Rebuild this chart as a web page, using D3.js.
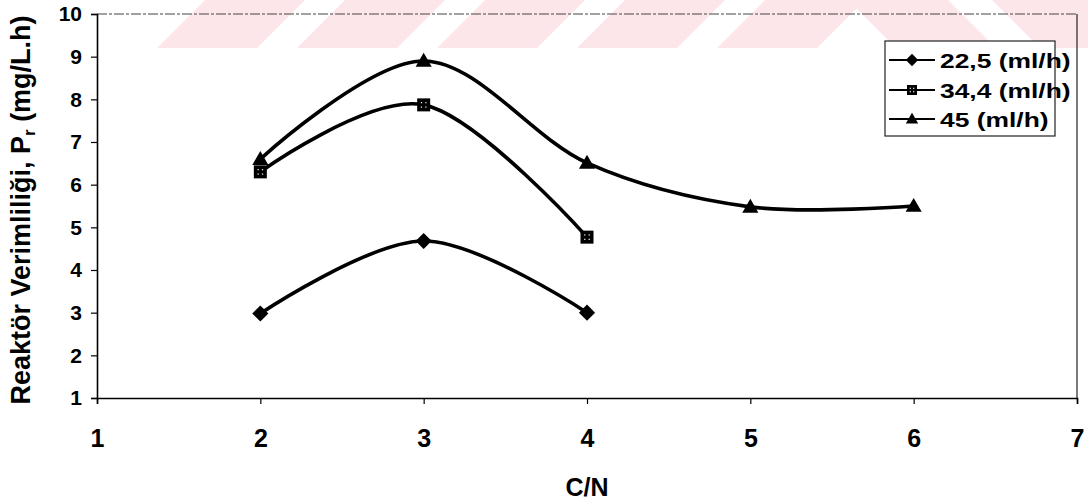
<!DOCTYPE html>
<html>
<head>
<meta charset="utf-8">
<script src="https://cdn.jsdelivr.net/npm/d3@7"></script>
<style>
  html, body { margin: 0; padding: 0; background: #fff; }
  svg { display: block; font-family: "Liberation Sans", Arial, sans-serif; font-weight: bold; }
</style>
</head>
<body>
<svg id="chart" width="1088" height="503"></svg>
<script>
// C/N ratio on the x axis, reactor productivity on the y axis
const xTicks = [1, 2, 3, 4, 5, 6, 7];
const yTicks = [1, 2, 3, 4, 5, 6, 7, 8, 9, 10];

const seriesNames = ["22,5 (ml/h)", "34,4 (ml/h)", "45 (ml/h)"];
const markerKinds = ["diamond", "square", "triangle"];

const cn_22_5 = [2, 3, 4];
const pr_22_5 = [2.98, 4.68, 3.0];

const cn_34_4 = [2, 3, 4];
const pr_34_4 = [6.3, 7.87, 4.77];

const cn_45 = [2, 3, 4, 5, 6];
const pr_45 = [6.6, 8.9, 6.51, 5.48, 5.5];

const seriesX = [cn_22_5, cn_34_4, cn_45];
const seriesY = [pr_22_5, pr_34_4, pr_45];

const svg = d3.select("#chart");

// faint pink band pattern across the top of the page
const bandsUp = [157, 297, 437, 577, 717];
const bandsDown = [848, 992];
const bandG = svg.append("g").attr("fill", "#fde6ea");
bandsUp.forEach(b => {
  bandG.append("path").attr("d", `M${b},48 L${b + 100},48 L${b + 148},0 L${b + 48},0 Z`);
});
bandsDown.forEach(b => {
  bandG.append("path").attr("d", `M${b},0 L${b + 100},0 L${b + 148},48 L${b + 48},48 Z`);
});

const x = d3.scaleLinear().domain([1, 7]).range([97, 1077]);
const y = d3.scaleLinear().domain([1, 10]).range([398, 14]);

// plot frame: top dotted grey, right solid thin
svg.append("line")
  .attr("x1", x(1)).attr("x2", x(7)).attr("y1", y(10)).attr("y2", y(10))
  .attr("stroke", "#444").attr("stroke-width", 1).attr("stroke-dasharray", "10,2,3,2");
svg.append("line")
  .attr("x1", x(7)).attr("x2", x(7)).attr("y1", y(10)).attr("y2", y(1))
  .attr("stroke", "#222").attr("stroke-width", 1.2);

// y axis
const yAxis = svg.append("g").attr("transform", `translate(${x(1)},0)`)
  .call(d3.axisLeft(y).tickValues(yTicks).tickFormat(d3.format("d")).tickSize(6).tickPadding(9));
yAxis.select(".domain").attr("stroke", "#000").attr("stroke-width", 1.6);
yAxis.selectAll(".tick line").attr("stroke", "#000").attr("stroke-width", 1.2);
yAxis.selectAll(".tick text")
  .attr("font-size", 21).attr("font-weight", "bold").attr("fill", "#000")
  .attr("font-family", "Liberation Sans, Arial, sans-serif");

// x axis
const xAxis = svg.append("g").attr("transform", `translate(0,${y(1)})`)
  .call(d3.axisBottom(x).tickValues(xTicks).tickFormat(d3.format("d")).tickSize(6).tickPadding(25));
xAxis.select(".domain").attr("stroke", "#000").attr("stroke-width", 1.6);
xAxis.selectAll(".tick line").attr("stroke", "#000").attr("stroke-width", 1.2);
xAxis.selectAll(".tick text")
  .attr("font-size", 25).attr("font-weight", "bold").attr("fill", "#000")
  .attr("font-family", "Liberation Sans, Arial, sans-serif");

// axis titles
svg.append("text")
  .attr("x", x(4)).attr("y", 496)
  .attr("text-anchor", "middle").attr("font-size", 25).attr("fill", "#000")
  .text("C/N");

const yTitle = svg.append("text")
  .attr("transform", "translate(30,210) rotate(-90)")
  .attr("text-anchor", "middle").attr("font-size", 27).attr("fill", "#000");
yTitle.append("tspan").text("Reaktör Verimliliği, P");
yTitle.append("tspan").attr("font-size", 17).attr("dy", 5).text("r");
yTitle.append("tspan").attr("dy", -5).text(" (mg/L.h)");

// markers
function drawMarker(g, kind, cx, cy, s) {
  if (kind === "diamond") {
    g.append("path")
      .attr("d", `M${cx},${cy - s * 0.62} L${cx + s * 0.62},${cy} L${cx},${cy + s * 0.62} L${cx - s * 0.62},${cy} Z`)
      .attr("fill", "#000");
  } else if (kind === "square") {
    g.append("rect")
      .attr("x", cx - s / 2).attr("y", cy - s / 2).attr("width", s).attr("height", s)
      .attr("fill", "#000");
    const d = s * 0.17;
    [[-d, -d], [d, -d], [-d, d], [d, d]].forEach(([dx, dy]) => {
      g.append("rect").attr("x", cx + dx - 0.6).attr("y", cy + dy - 0.6)
        .attr("width", 1.2).attr("height", 1.2).attr("fill", "#fff");
    });
  } else {
    g.append("path")
      .attr("d", `M${cx},${cy - s * 0.62} L${cx + s * 0.62},${cy + s * 0.45} L${cx - s * 0.62},${cy + s * 0.45} Z`)
      .attr("fill", "#000");
  }
}

const line = d3.line()
  .x(d => x(d[0])).y(d => y(d[1]))
  .curve(d3.curveCardinal.tension(0));

seriesX.forEach((xs, i) => {
  const pts = xs.map((v, j) => [v, seriesY[i][j]]);
  const g = svg.append("g");
  g.append("path").datum(pts)
    .attr("d", line).attr("fill", "none")
    .attr("stroke", "#000").attr("stroke-width", 3.6)
    .attr("stroke-linejoin", "round").attr("stroke-linecap", "round");
  pts.forEach(p => drawMarker(g, markerKinds[i], x(p[0]), y(p[1]), 13));
});

// legend
const legend = svg.append("g");
legend.append("rect")
  .attr("x", 885).attr("y", 41).attr("width", 170).attr("height", 95)
  .attr("fill", "#fff").attr("stroke", "#222").attr("stroke-width", 1.2);
const rowY = [60, 90, 119];
seriesNames.forEach((name, i) => {
  const ry = rowY[i];
  legend.append("line")
    .attr("x1", 889).attr("x2", 935).attr("y1", ry).attr("y2", ry)
    .attr("stroke", "#000").attr("stroke-width", 2.2);
  drawMarker(legend, markerKinds[i], 912, ry, 10);
  const t = legend.append("text")
    .attr("x", 940).attr("y", ry + 7.5)
    .attr("font-size", 20).attr("fill", "#000")
    .text(name);
  const len = t.node().getComputedTextLength();
  t.attr("textLength", len * 1.32).attr("lengthAdjust", "spacingAndGlyphs");
});
</script>
</body>
</html>
